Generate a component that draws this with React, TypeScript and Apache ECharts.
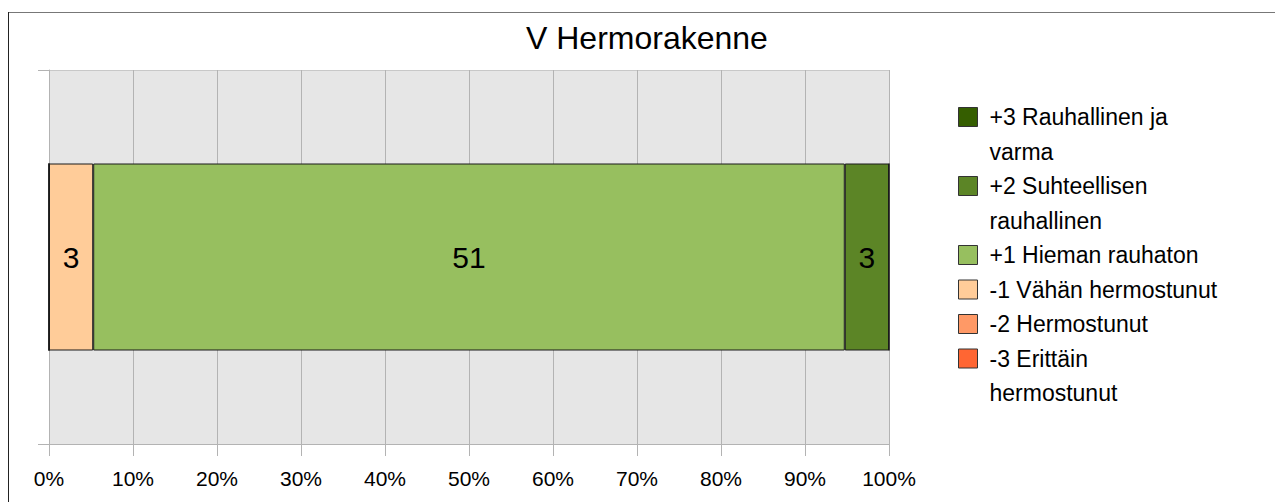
import React, { useEffect, useRef } from "react";
import * as echarts from "echarts";

const chartTitle = "V Hermorakenne";
const categories = ["V Hermorakenne"];
const seriesNames = [
  "-3 Erittäin hermostunut",
  "-2 Hermostunut",
  "-1 Vähän hermostunut",
  "+1 Hieman rauhaton",
  "+2 Suhteellisen rauhallinen",
  "+3 Rauhallinen ja varma",
];
const legendLabels = [
  "-3 Erittäin\nhermostunut",
  "-2 Hermostunut",
  "-1 Vähän hermostunut",
  "+1 Hieman rauhaton",
  "+2 Suhteellisen\nrauhallinen",
  "+3 Rauhallinen ja\nvarma",
];
const counts = [0, 0, 3, 51, 3, 0];
const colors = ["#ff6633", "#ff9966", "#ffcc99", "#97bf5f", "#5c8526", "#355e00"];
const legendOrder = [5, 4, 3, 2, 1, 0];

const FONT = "'Liberation Sans', Arial, sans-serif";

export default function App() {
  const ref = useRef<HTMLDivElement>(null);
  useEffect(() => {
    if (!ref.current) return;
    const chart = echarts.init(ref.current, undefined, { renderer: "svg" });
    const total = counts.reduce((a, b) => a + b, 0);

    const L = 34.5;
    const sq = 19;
    const c0 = 117;
    let linesBefore = 0;
    const legends = legendOrder.map((idx) => {
      const lines = legendLabels[idx].split("\n").length;
      const k = linesBefore;
      linesBefore += lines;
      const h = sq + (lines - 1) * L;
      const icon = lines > 1 ? `path://M0,0h${sq}v${sq}h-${sq}z M0,${h}h0` : "rect";
      return {
        show: true,
        data: [{ name: seriesNames[idx], icon }],
        left: 958,
        top: c0 + k * L - L / 2,
        orient: "vertical",
        padding: 0,
        itemWidth: sq,
        itemHeight: h,
        selectedMode: true,
        formatter: () => legendLabels[idx],
        textStyle: {
          fontSize: 23,
          lineHeight: L,
          color: "#000",
          fontFamily: FONT,
          padding: [0, 0, 0, 7],
        },
        itemStyle: { borderColor: "#333", borderWidth: 1 },
      };
    });

    chart.setOption({
      animation: false,
      backgroundColor: "#fff",
      title: {
        text: chartTitle,
        left: 526,
        top: 22,
        padding: 0,
        textStyle: { fontSize: 32, lineHeight: 32, fontWeight: "normal", color: "#000", fontFamily: FONT },
      },
      legend: legends,
      grid: {
        left: 49,
        top: 70,
        width: 840,
        height: 374,
        show: true,
        backgroundColor: "#e6e6e6",
        borderWidth: 0,
        containLabel: false,
      },
      xAxis: {
        type: "value",
        min: 0,
        max: 100,
        interval: 10,
        axisLine: { show: true, lineStyle: { color: "#b3b3b3", width: 1 } },
        axisTick: { show: true, length: 12, lineStyle: { color: "#b3b3b3" } },
        axisLabel: {
          formatter: "{value}%",
          fontSize: 21,
          lineHeight: 21,
          color: "#000",
          fontFamily: FONT,
          margin: 24,
        },
        splitLine: { show: true, lineStyle: { color: "#b3b3b3", width: 1 } },
      },
      yAxis: {
        type: "category",
        data: categories,
        axisLabel: { show: false },
        axisTick: { show: true, length: 11, lineStyle: { color: "#b3b3b3" } },
        axisLine: { show: true, lineStyle: { color: "#b3b3b3" } },
        splitLine: { show: true, lineStyle: { color: "#c8c8c8" } },
      },
      series: seriesNames.map((name, i) => ({
        name,
        type: "bar",
        stack: "total",
        barWidth: "50%",
        data: [(counts[i] / total) * 100],
        itemStyle: { color: colors[i], borderColor: "#1a1a1a", borderWidth: 1 },
        label: {
          show: counts[i] > 0,
          position: "inside",
          formatter: () => String(counts[i]),
          fontSize: 30,
          color: "#000",
          fontFamily: FONT,
        },
      })),
      graphic: [
        { type: "line", shape: { x1: 8, y1: 12.5, x2: 1275, y2: 12.5 }, style: { stroke: "#777", lineWidth: 1 }, silent: true },
        { type: "line", shape: { x1: 8.5, y1: 12, x2: 8.5, y2: 502 }, style: { stroke: "#222", lineWidth: 1 }, silent: true },
      ],
    });
    return () => chart.dispose();
  }, []);
  return (
    <div
      ref={ref}
      style={{ position: "absolute", left: 0, top: 0, width: 1275, height: 502 }}
    />
  );
}
